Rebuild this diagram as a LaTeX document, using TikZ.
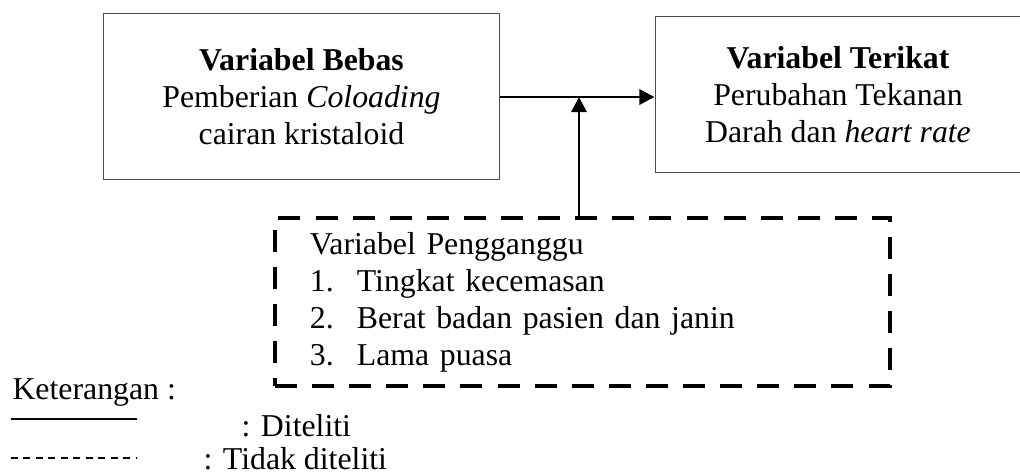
\documentclass[tikz,border=0pt]{standalone}
\usepackage{fontspec}
\setmainfont{Liberation Serif}
\usetikzlibrary{arrows.meta}

\tikzset{
  kotak/.style={draw=black!70, line width=0.4pt, align=center, inner sep=0pt},
  kotakputus/.style={draw, line width=1.5pt, dash pattern=on 8.3pt off 5.7pt,
    align=left, inner xsep=13.2pt, inner ysep=0pt, text width=205.7pt,
    minimum width=232.1pt, minimum height=63.4pt},
  panah/.style={line width=1.1pt, -{Triangle[length=5.7pt,width=5.7pt]}},
  teks/.style={anchor=base west, inner sep=0pt}
}

\begin{document}
\begin{tikzpicture}[x=0.3774pt, y=-0.3774pt, font=\fontsize{12}{14}\selectfont]
  \useasboundingbox (0,0) rectangle (1020,476);
  % variable boxes
  \node[kotak, minimum width=149.1pt, minimum height=63pt] (bebas) at (301.5,96.5)
    {\textbf{Variabel Bebas}\\Pemberian \textit{Coloading}\\cairan kristaloid};
  \node[kotak, minimum width=138.1pt, minimum height=59.2pt] (terikat) at (838,94.5)
    {\textbf{Variabel Terikat}\\Perubahan Tekanan\\Darah dan \textit{heart rate}};
  % confounding variables
  \node[kotakputus] (ganggu) at (582.5,302)
    {Variabel Pengganggu\\
     \makebox[17.7pt][l]{1.}Tingkat kecemasan\\
     \makebox[17.7pt][l]{2.}Berat badan pasien dan janin\\
     \makebox[17.7pt][l]{3.}Lama puasa};
  \coordinate (temu) at (579,97);
  % arrows
  \draw[panah] (bebas.east |- temu) -- (terikat.west |- temu);
  \draw[panah] (ganggu.north -| temu) -- (temu);
  % legend
  \node[teks] (ket) at (12,399) {Keterangan :};
  \coordinate (garisA) at (11,419);
  \coordinate (garisB) at (137,419);
  \coordinate (putusA) at (11,458);
  \coordinate (putusB) at (137,458);
  \draw[line width=0.6pt] (garisA) -- (garisB);
  \draw[line width=0.4pt, dash pattern=on 2.6pt off 2.1pt] (putusA) -- (putusB);
  \node[teks] (diteliti) at (241,436) {: Diteliti};
  \node[teks] (tidak) at (203,469) {: Tidak diteliti};
\end{tikzpicture}
\end{document}
